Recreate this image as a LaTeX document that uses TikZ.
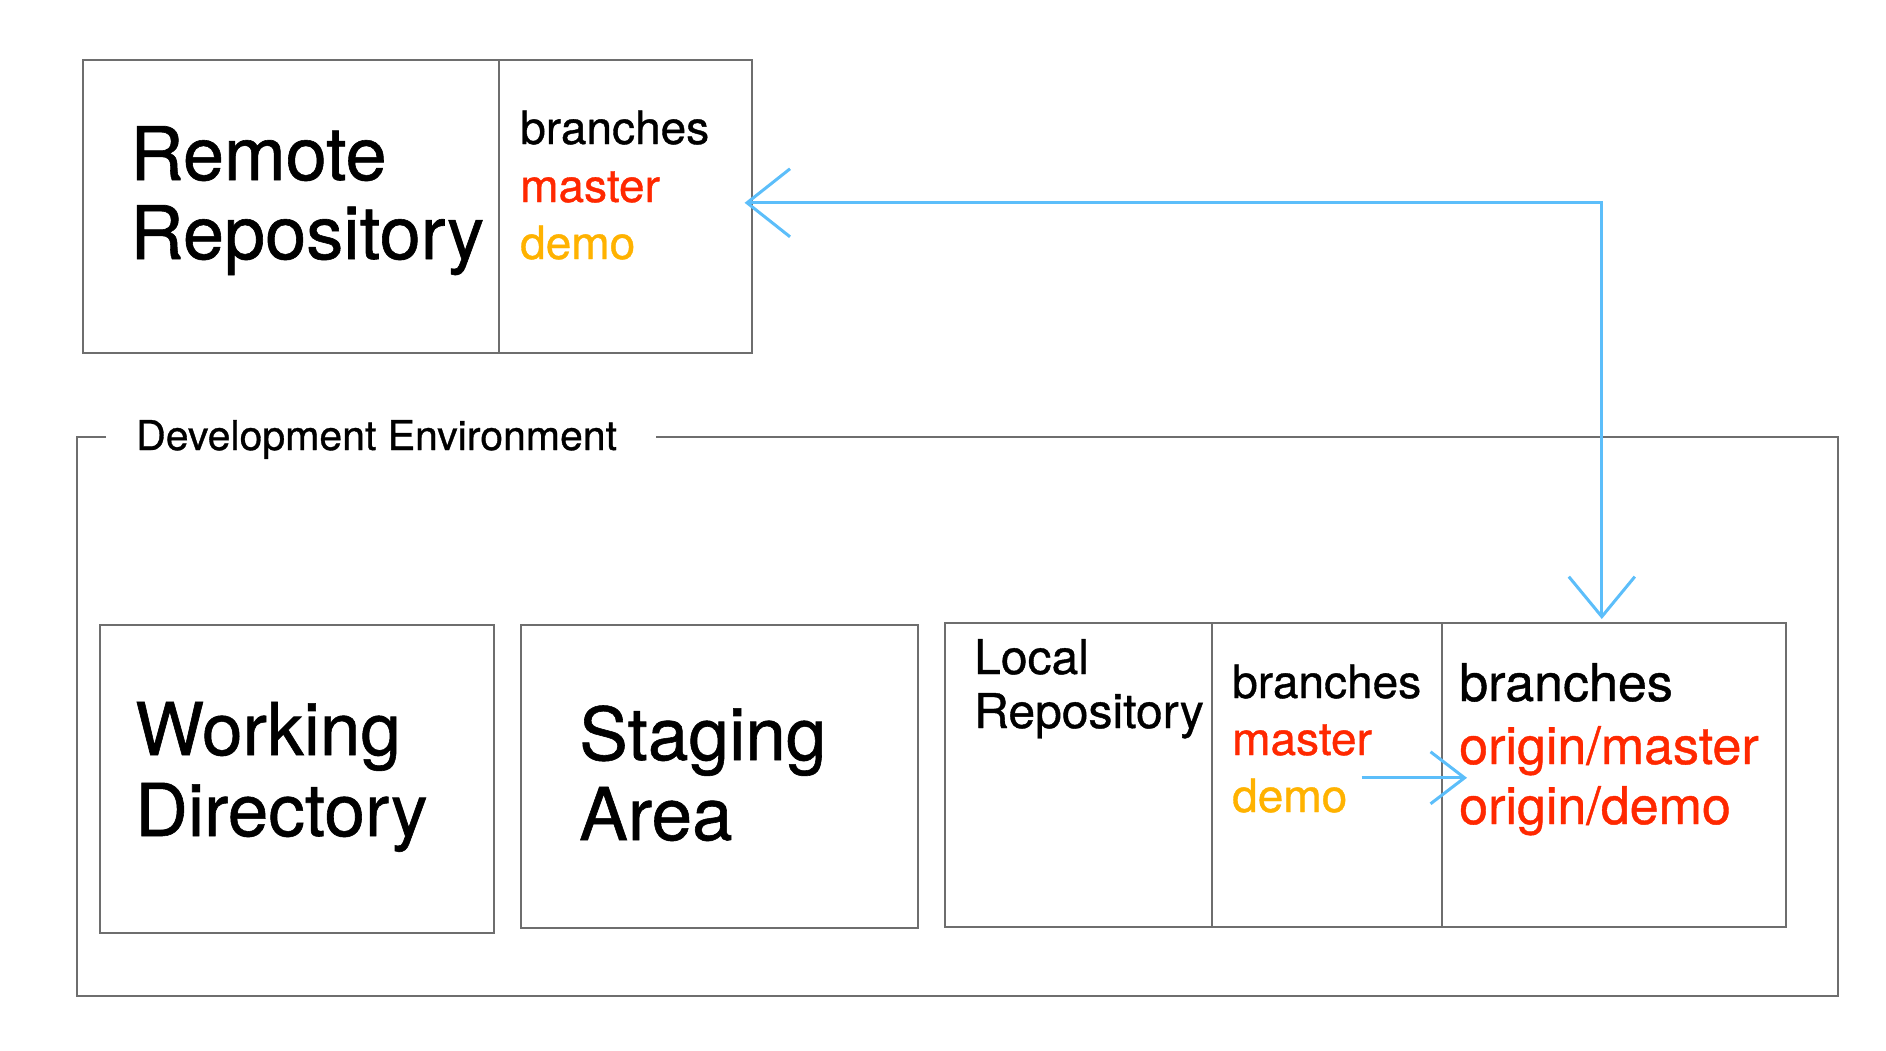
\documentclass[tikz,border=0pt]{standalone}
\usepackage{fontspec}
\setmainfont{TeX Gyre Heros}[FakeBold=0.8]
\usetikzlibrary{arrows.meta}
\definecolor{linegray}{RGB}{110,110,110}
\definecolor{arrowblue}{RGB}{92,190,250}
\definecolor{brred}{RGB}{255,40,0}
\definecolor{brorange}{RGB}{255,178,0}
\tikzset{
  boxframe/.style={draw=linegray, line width=1.6pt, rectangle, inner sep=0pt, anchor=north west},
  txt/.style={inner sep=0pt, anchor=base west},
  bluearrow/.style={draw=arrowblue, line width=3pt},
}
\newcommand{\fs}[1]{\fontsize{#1}{#1}\selectfont}
\begin{document}
\begin{tikzpicture}[x=1pt,y=-1pt]
\useasboundingbox (0,0) rectangle (1886,1050);
% Remote repository
\node[boxframe, minimum width=669pt, minimum height=293pt] (remote) at (82,59) {};
\node[boxframe, minimum width=253pt, minimum height=293pt] (remotebr) at (498,59) {};
\node[txt] (t1) at (130,180) {\fs{74}Remote};
\node[txt] (t2) at (130,259) {\fs{74}Repository};
\node[txt] (t3) at (520,144) {\fs{46}branches};
\node[txt, text=brred] (t4) at (520,202) {\fs{46}master};
\node[txt, text=brorange] (t5) at (520,259) {\fs{46}demo};
% Development environment frame
\coordinate (d1) at (106,437);
\coordinate (d2) at (77,437);
\coordinate (d3) at (77,996);
\coordinate (d4) at (1838,996);
\coordinate (d5) at (1838,437);
\coordinate (d6) at (656,437);
\draw[draw=linegray, line width=1.6pt] (d1) -- (d2) -- (d3) -- (d4) -- (d5) -- (d6);
\node[txt] (dev) at (136,450) {\fs{41}Development Environment};
% Working directory
\node[boxframe, minimum width=394pt, minimum height=308pt] (work) at (99,624) {};
\node[txt] (t6) at (135,755) {\fs{73}Working};
\node[txt] (t7) at (135,836) {\fs{73}Directory};
% Staging area
\node[boxframe, minimum width=397pt, minimum height=303pt] (stage) at (520,624) {};
\node[txt] (t8) at (579,760) {\fs{73}Staging};
\node[txt] (t9) at (579,840) {\fs{73}Area};
% Local repository
\node[boxframe, minimum width=267pt, minimum height=304pt] (localname) at (944,622) {};
\node[boxframe, minimum width=230pt, minimum height=304pt] (localbr) at (1211,622) {};
\node[boxframe, minimum width=344pt, minimum height=304pt] (tracking) at (1441,622) {};
\node[txt] (t10) at (974,674) {\fs{48}Local};
\node[txt] (t11) at (974,728) {\fs{48}Repository};
\node[txt] (t12) at (1232,698) {\fs{46}branches};
\node[txt, text=brred] (t13) at (1232,755) {\fs{46}master};
\node[txt, text=brorange] (t14) at (1232,812) {\fs{46}demo};
\node[txt] (t15) at (1459,701) {\fs{52}branches};
\node[txt, text=brred] (t16) at (1459,764) {\fs{52}origin/master};
\node[txt, text=brred] (t17) at (1459,824) {\fs{52}origin/demo};
% Arrows
\draw[bluearrow, {Straight Barb[length=43pt, width=68pt]}-{Straight Barb[length=40pt, width=66pt]}]
  ([xshift=-8pt, yshift=3.5pt]remote.east) -| ([xshift=-12pt, yshift=3pt]tracking.north);
\draw[bluearrow, -{Straight Barb[length=34pt, width=52pt]}]
  ([xshift=-81pt, yshift=-3pt]localbr.east) -- ([xshift=26pt, yshift=-3pt]tracking.west);
\end{tikzpicture}
\end{document}
